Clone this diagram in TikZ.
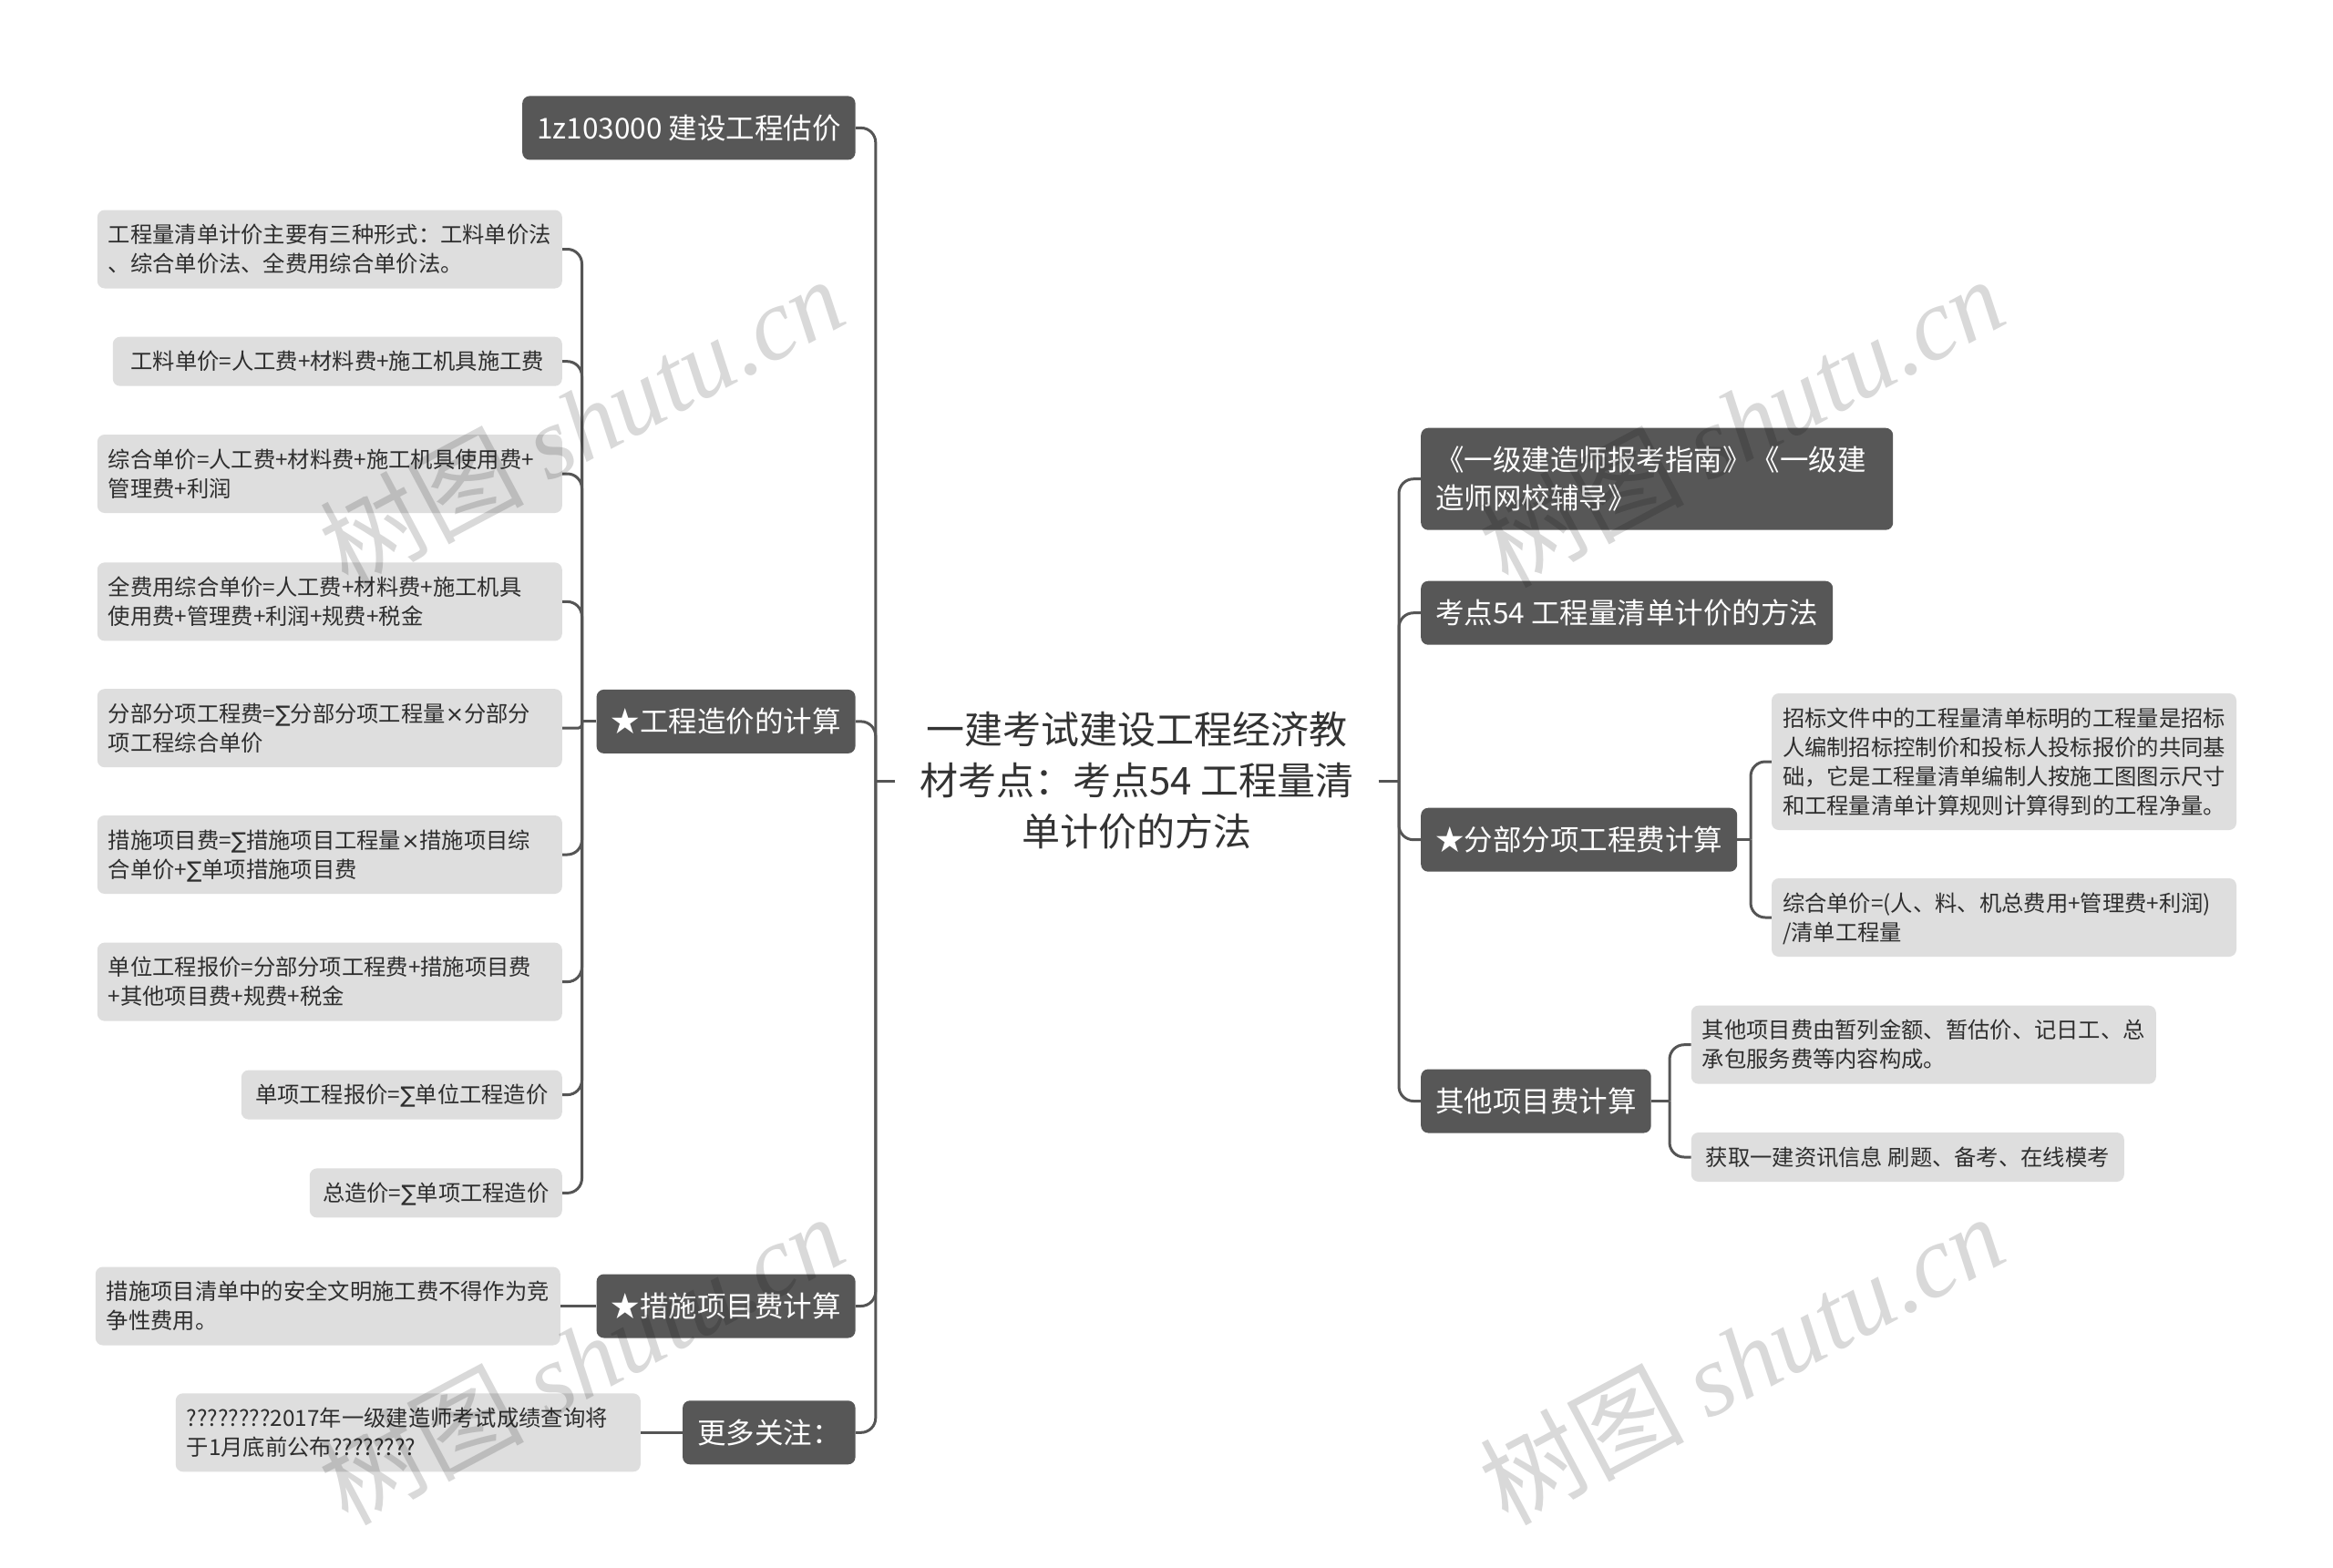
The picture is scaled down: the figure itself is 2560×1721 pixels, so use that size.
\documentclass[tikz,border=0pt]{standalone}
\usepackage{fontspec}
\setmainfont{Noto Sans CJK SC}
\newfontfamily\wmserif{Liberation Serif}
\newfontfamily\symfont{DejaVu Sans}
\newcommand{\sumsym}{{\symfont ∑}}
\newcommand{\timessym}{{\symfont ×}}
\definecolor{darkbox}{HTML}{575757}
\definecolor{lightbox}{HTML}{DEDEDE}
\definecolor{linec}{HTML}{555555}
\definecolor{leaftext}{HTML}{2E2E2E}
\definecolor{roottext}{HTML}{333333}
\newcommand{\mainstrut}{\rule[-9pt]{0pt}{42pt}}
\newcommand{\leafstrut}{\rule[-6.8pt]{0pt}{32pt}}
\tikzset{
  mainbox/.style={fill=darkbox, text=white, rounded corners=8pt,
    font=\fontsize{31.5}{42}\selectfont, inner xsep=16pt, inner ysep=14pt,
    execute at begin node=\mainstrut, execute at end node=\mainstrut},
  leafbox/.style={fill=lightbox, text=leaftext, rounded corners=8pt,
    font=\fontsize{24.3}{32}\selectfont, inner xsep=12pt, inner ysep=11pt,
    execute at begin node=\leafstrut, execute at end node=\leafstrut},
  wide/.style={text width=486pt, align=left},
  conn/.style={draw=linec, line width=3pt, rounded corners=16pt},
  stub/.style={draw=linec, line width=3pt},
  wm/.style={text=black, text opacity=0.15, rotate=28, anchor=base, inner sep=0pt}
}
\begin{document}
\begin{tikzpicture}[x=1pt, y=-1pt]
\fill[white] (0,0) rectangle (2560,1721);
\useasboundingbox (0,0) rectangle (2560,1721);

% root
\node[font=\fontsize{42}{56}\selectfont, text=roottext, align=center, inner xsep=27pt, inner ysep=6pt] (root) at (1247.5,857)
  {一建考试建设工程经济教\\材考点：考点54 工程量清\\单计价的方法};
\coordinate (jl) at (960.8,857);
\coordinate (jr) at (1535,857);

% left main nodes
\node[mainbox, anchor=east] (mA) at (938.8,140.4) {1z103000 建设工程估价};
\node[mainbox, anchor=east] (mB) at (938.8,791.9) {★工程造价的计算};
\node[mainbox, anchor=east] (mC) at (938.8,1433.5) {★措施项目费计算};
\node[mainbox, anchor=east] (mD) at (938.8,1572.3) {更多关注：};

% leaves of mB
\coordinate (jb) at (638.5,791.9);
\node[leafbox, wide, anchor=east] (L1) at (617,273.5) {工程量清单计价主要有三种形式：工料单价法\\、综合单价法、全费用综合单价法。};
\node[leafbox, anchor=east, minimum width=493pt] (L2) at (617,396.7) {工料单价=人工费+材料费+施工机具施工费};
\node[leafbox, wide, anchor=east] (L3) at (617,520) {综合单价=人工费+材料费+施工机具使用费+\\管理费+利润};
\node[leafbox, wide, anchor=east] (L4) at (617,660.4) {全费用综合单价=人工费+材料费+施工机具\\使用费+管理费+利润+规费+税金};
\node[leafbox, wide, anchor=east] (L5) at (617,799.2) {分部分项工程费=\sumsym 分部分项工程量\timessym 分部分\\项工程综合单价};
\node[leafbox, wide, anchor=east] (L6) at (617,938) {措施项目费=\sumsym 措施项目工程量\timessym 措施项目综\\合单价+\sumsym 单项措施项目费};
\node[leafbox, wide, anchor=east] (L7) at (617,1077.6) {单位工程报价=分部分项工程费+措施项目费\\+其他项目费+规费+税金};
\node[leafbox, anchor=east, minimum width=352pt] (L8) at (617,1201.6) {单项工程报价=\sumsym 单位工程造价};
\node[leafbox, anchor=east, minimum width=277pt] (L9) at (617,1309.4) {总造价=\sumsym 单项工程造价};

% leaves of mC, mD
\node[leafbox, wide, anchor=east] (C1) at (615,1433.5) {措施项目清单中的安全文明施工费不得作为竞\\争性费用。};
\node[leafbox, wide, anchor=east] (D1) at (703,1572.3) {????????2017年一级建造师考试成绩查询将\\于1月底前公布????????};

% right main nodes
\node[mainbox, anchor=west, text width=486pt, align=left] (R1) at (1559,525.7) {《一级建造师报考指南》《一级建\\造师网校辅导》};
\node[mainbox, anchor=west] (R2) at (1559,672.7) {考点54 工程量清单计价的方法};
\node[mainbox, anchor=west] (R3) at (1559,921.7) {★分部分项工程费计算};
\node[mainbox, anchor=west] (R4) at (1559,1208.5) {其他项目费计算};

\coordinate (j3) at (1921,921.7);
\coordinate (j4) at (1832,1208.5);
\node[leafbox, wide, anchor=west] (RL1) at (1943.8,836) {招标文件中的工程量清单标明的工程量是招标\\人编制招标控制价和投标人投标报价的共同基\\础，它是工程量清单编制人按施工图图示尺寸\\和工程量清单计算规则计算得到的工程净量。};
\node[leafbox, wide, anchor=west] (RL2) at (1943.8,1007) {综合单价=(人、料、机总费用+管理费+利润)\\/清单工程量};
\node[leafbox, wide, anchor=west] (RL3) at (1855.6,1146.7) {其他项目费由暂列金额、暂估价、记日工、总\\承包服务费等内容构成。};
\node[leafbox, anchor=west, minimum width=475pt] (RL4) at (1855.6,1270) {获取一建资讯信息 刷题、备考、在线模考};

% connectors: root
\draw[stub] (root.west) -- (jl);
\draw[stub] (root.east) -- (jr);
\draw[conn] (jl) |- (mA.east);
\draw[conn] (jl) |- (mB.east);
\draw[conn] (jl) |- (mC.east);
\draw[conn] (jl) |- (mD.east);
\draw[conn] (jr) |- (R1.west);
\draw[conn] (jr) |- (R2.west);
\draw[conn] (jr) |- (R3.west);
\draw[conn] (jr) |- (R4.west);

% connectors: mB leaves
\draw[stub] (mB.west) -- (jb);
\draw[conn] (jb) |- (L1.east);
\draw[conn] (jb) |- (L2.east);
\draw[conn] (jb) |- (L3.east);
\draw[conn] (jb) |- (L4.east);
\draw[conn, rounded corners=4pt] (jb) |- (L5.east);
\draw[conn] (jb) |- (L6.east);
\draw[conn] (jb) |- (L7.east);
\draw[conn] (jb) |- (L8.east);
\draw[conn] (jb) |- (L9.east);

\draw[stub] (mC.west) -- (C1.east);
\draw[stub] (mD.west) -- (D1.east);

% connectors: right leaves
\draw[stub] (R3.east) -- (j3);
\draw[conn] (j3) |- (RL1.west);
\draw[conn] (j3) |- (RL2.west);
\draw[stub] (R4.east) -- (j4);
\draw[conn] (j4) |- (RL3.west);
\draw[conn] (j4) |- (RL4.west);

% watermarks
\node[wm] (wm1) at (658,500) {\fontsize{112}{112}\selectfont 树图 {\wmserif\itshape shutu.cn}};
\node[wm] (wm2) at (1931,500) {\fontsize{112}{112}\selectfont 树图 {\wmserif\itshape shutu.cn}};
\node[wm] (wm3) at (658,1529) {\fontsize{112}{112}\selectfont 树图 {\wmserif\itshape shutu.cn}};
\node[wm] (wm4) at (1931,1529) {\fontsize{112}{112}\selectfont 树图 {\wmserif\itshape shutu.cn}};
\end{tikzpicture}
\end{document}
